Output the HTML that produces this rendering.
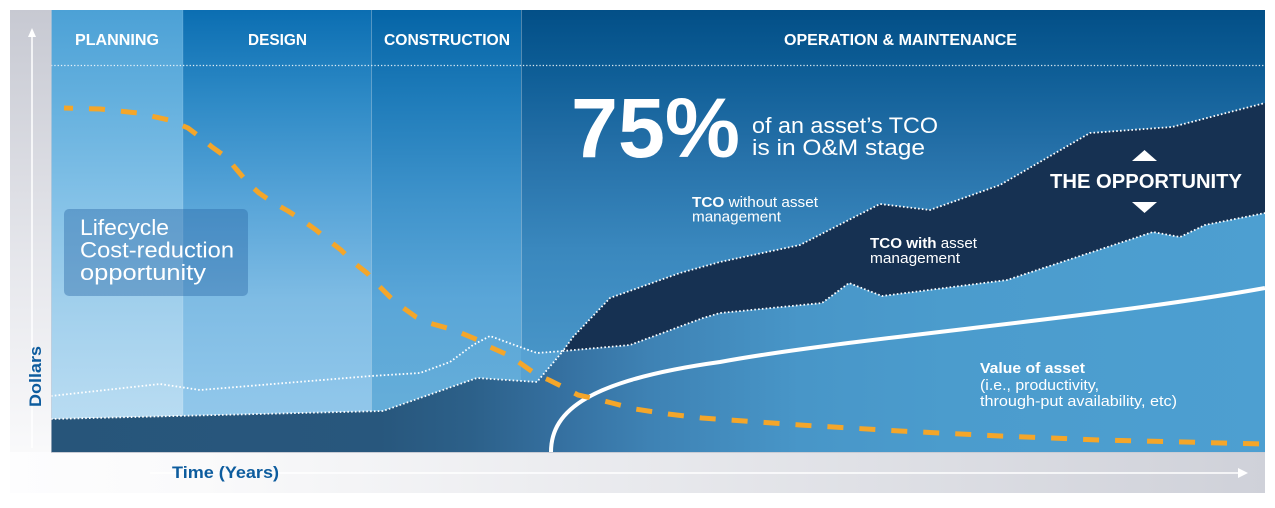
<!DOCTYPE html>
<html><head><meta charset="utf-8">
<style>
html,body{margin:0;padding:0;background:#fff;width:1275px;height:508px;overflow:hidden}
svg{display:block}
</style></head>
<body>
<svg width="1275" height="508" viewBox="0 0 1275 508" xmlns="http://www.w3.org/2000/svg" font-family="'Liberation Sans', Arial, sans-serif">
<defs>
  <linearGradient id="gL" x1="0" y1="10" x2="0" y2="470" gradientUnits="userSpaceOnUse">
    <stop offset="0" stop-color="#c7c9d2"/><stop offset="0.55" stop-color="#e6e7ec"/><stop offset="1" stop-color="#fbfbfc"/>
  </linearGradient>
  <linearGradient id="gB" x1="10" y1="0" x2="1265" y2="0" gradientUnits="userSpaceOnUse">
    <stop offset="0" stop-color="#fdfdfe"/><stop offset="0.15" stop-color="#fafafb"/><stop offset="1" stop-color="#cfd1d9"/>
  </linearGradient>
  <linearGradient id="gP" x1="0" y1="10" x2="0" y2="452" gradientUnits="userSpaceOnUse">
    <stop offset="0" stop-color="#4ca1d6"/><stop offset="0.204" stop-color="#64b0de"/><stop offset="0.43" stop-color="#83c1e7"/><stop offset="0.656" stop-color="#a0cfec"/><stop offset="0.88" stop-color="#b5daf1"/><stop offset="1" stop-color="#bcdef3"/>
  </linearGradient>
  <linearGradient id="gD" x1="0" y1="10" x2="0" y2="452" gradientUnits="userSpaceOnUse">
    <stop offset="0" stop-color="#0b6eb2"/><stop offset="0.204" stop-color="#2e8ac6"/><stop offset="0.43" stop-color="#57a4d8"/><stop offset="0.656" stop-color="#7fbce4"/><stop offset="0.88" stop-color="#8fc6ea"/><stop offset="1" stop-color="#94c9eb"/>
  </linearGradient>
  <linearGradient id="gC" x1="0" y1="10" x2="0" y2="452" gradientUnits="userSpaceOnUse">
    <stop offset="0" stop-color="#0565a7"/><stop offset="0.204" stop-color="#1f7cba"/><stop offset="0.43" stop-color="#3f93cb"/><stop offset="0.656" stop-color="#5aa6d8"/><stop offset="0.88" stop-color="#64add9"/><stop offset="1" stop-color="#66aeda"/>
  </linearGradient>
  <linearGradient id="gO" x1="0" y1="10" x2="0" y2="452" gradientUnits="userSpaceOnUse">
    <stop offset="0" stop-color="#034f87"/><stop offset="0.125" stop-color="#0c5c95"/><stop offset="0.317" stop-color="#2570a8"/><stop offset="0.543" stop-color="#3a88be"/><stop offset="0.77" stop-color="#4794c7"/><stop offset="1" stop-color="#4c9ccd"/>
  </linearGradient>
  <linearGradient id="gDark" x1="51" y1="0" x2="1265" y2="0" gradientUnits="userSpaceOnUse">
    <stop offset="0" stop-color="#27557a"/>
    <stop offset="0.271" stop-color="#28577d"/>
    <stop offset="0.345" stop-color="#2c6089"/>
    <stop offset="0.419" stop-color="#3570a0"/>
    <stop offset="0.493" stop-color="#3e82b4"/>
    <stop offset="0.617" stop-color="#4896c8"/>
    <stop offset="0.74" stop-color="#4b9ccd"/>
    <stop offset="1" stop-color="#4d9fd1"/>
  </linearGradient>
</defs>

<!-- side strips -->
<rect x="10" y="10" width="41" height="460" fill="url(#gL)"/>
<rect x="10" y="452" width="1255" height="41" fill="url(#gB)"/>

<!-- phase columns -->
<rect x="51" y="10" width="132" height="442" fill="url(#gP)"/>
<rect x="183" y="10" width="188" height="442" fill="url(#gD)"/>
<rect x="371" y="10" width="150" height="442" fill="url(#gC)"/>
<rect x="521" y="10" width="744" height="442" fill="url(#gO)"/>

<!-- column dividers -->
<line x1="183" y1="10" x2="183" y2="452" stroke="#ffffff" stroke-opacity="0.12" stroke-width="1"/>
<line x1="371.5" y1="10" x2="371.5" y2="452" stroke="#ffffff" stroke-opacity="0.3" stroke-width="1"/>
<line x1="521.5" y1="10" x2="521.5" y2="452" stroke="#ffffff" stroke-opacity="0.3" stroke-width="1"/>

<!-- header dotted line -->
<line x1="51" y1="65.5" x2="1265" y2="65.5" stroke="#ffffff" stroke-opacity="0.85" stroke-width="1.3" stroke-dasharray="1.3 2"/>

<!-- small light band in O&M under TCO-without line -->
<polygon points="521,347 537,353 563,351 547,370 537,382 521,381" fill="#57a2d3"/>

<!-- lower area (dark + asset area) -->
<path d="M51,419 L383,411 L477,378 L537,382 L547,370 L563,351 L630,345 L703,318 L720,313 L822,303 L849,283 L882,296 L1007,280 L1153,232 L1180,237 L1205,225 L1265,213 L1265,452 L51,452 Z" fill="url(#gDark)"/>

<!-- navy opportunity band -->
<path d="M563,351 L573,337 L610,298 L680,273 L720,262 L800,245 L880,204 L930,210 L1000,185 L1090,133 L1172,127 L1265,103 L1265,213 L1205,225 L1180,237 L1153,232 L1007,280 L882,296 L849,283 L822,303 L720,313 L703,318 L630,345 Z" fill="#163152"/>

<!-- dotted lines -->
<path d="M51,396 L160,384 L200,390 L371,376 L420,373 L450,362 L473,345 L490,336 L520,347 L537,353 L563,351 L573,337 L610,298 L680,273 L720,262 L800,245 L880,204 L930,210 L1000,185 L1090,133 L1172,127 L1265,103" fill="none" stroke="#ffffff" stroke-width="1.8" stroke-dasharray="1.6 2.2"/>
<path d="M51,419 L383,411 L477,378 L537,382 L547,370 L563,351 L630,345 L703,318 L720,313 L822,303 L849,283 L882,296 L1007,280 L1153,232 L1180,237 L1205,225 L1265,213" fill="none" stroke="#ffffff" stroke-width="1.8" stroke-dasharray="1.6 2.2"/>

<!-- chart edges -->
<line x1="51" y1="452.5" x2="1265" y2="452.5" stroke="#c9ccd5" stroke-width="1"/>
<line x1="51.5" y1="10" x2="51.5" y2="452" stroke="#c9ccd5" stroke-width="1" stroke-opacity="0.6"/>

<!-- value of asset curve -->
<path d="M551,452 C551,410 590,380 720,362 C850,338 1100,318 1265,288" fill="none" stroke="#ffffff" stroke-width="4"/>

<!-- orange dashed -->
<polyline points="64,108 100,109 138,113 169,120 188,128 200,137 212,147 226,157 237,170 248,183 259,193 272,202 288,211 302,220 316,230 328,240 341,250 353,262 367,273 378,285 390,297 402,307 416,317 429,323 447,328 461,333 478,340 490,347 508,355 520,363 537,375 549,380 565,388 578,395 596,399 612,403 635,409 668,414 702,418 800,425 900,431 1000,436 1100,440 1265,444" fill="none" stroke="#f4a62a" stroke-width="5" stroke-dasharray="16 16" stroke-dashoffset="7" stroke-linejoin="round"/>

<!-- lifecycle box -->
<rect x="64" y="209" width="184" height="87" rx="5" fill="#2a6aa8" fill-opacity="0.42"/>
<g fill="#ffffff" font-size="22">
  <text x="80" y="235" textLength="89" lengthAdjust="spacingAndGlyphs">Lifecycle</text>
  <text x="80" y="257.5" textLength="154" lengthAdjust="spacingAndGlyphs">Cost-reduction</text>
  <text x="80" y="280" textLength="126" lengthAdjust="spacingAndGlyphs">opportunity</text>
</g>

<!-- header labels -->
<g fill="#ffffff" font-weight="bold" font-size="15.5">
  <text x="75" y="45" textLength="84" lengthAdjust="spacingAndGlyphs">PLANNING</text>
  <text x="248" y="45" textLength="59" lengthAdjust="spacingAndGlyphs">DESIGN</text>
  <text x="384" y="45" textLength="126" lengthAdjust="spacingAndGlyphs">CONSTRUCTION</text>
  <text x="784" y="45" textLength="233" lengthAdjust="spacingAndGlyphs">OPERATION &amp; MAINTENANCE</text>
</g>

<!-- 75% -->
<text x="571" y="157" fill="#ffffff" font-weight="bold" font-size="84" textLength="169" lengthAdjust="spacingAndGlyphs">75%</text>
<g fill="#ffffff" font-size="22">
  <text x="752" y="133" textLength="186" lengthAdjust="spacingAndGlyphs">of an asset’s TCO</text>
  <text x="752" y="155" textLength="173" lengthAdjust="spacingAndGlyphs">is in O&amp;M stage</text>
</g>

<!-- opportunity -->
<polygon points="1132,161 1157,161 1144.5,150" fill="#ffffff"/>
<text x="1050" y="188" fill="#ffffff" font-weight="bold" font-size="20" textLength="192" lengthAdjust="spacingAndGlyphs">THE OPPORTUNITY</text>
<polygon points="1132,202 1157,202 1144.5,213" fill="#ffffff"/>

<!-- TCO labels -->
<g fill="#ffffff" font-size="14.5">
  <text x="692" y="207" textLength="126" lengthAdjust="spacingAndGlyphs"><tspan font-weight="bold">TCO</tspan> without asset</text>
  <text x="692" y="221.5" textLength="89" lengthAdjust="spacingAndGlyphs">management</text>
  <text x="870" y="248" textLength="107" lengthAdjust="spacingAndGlyphs"><tspan font-weight="bold">TCO with</tspan> asset</text>
  <text x="870" y="263" textLength="90" lengthAdjust="spacingAndGlyphs">management</text>
  <text x="980" y="373" font-weight="bold" textLength="105" lengthAdjust="spacingAndGlyphs">Value of asset</text>
  <text x="980" y="390" textLength="119" lengthAdjust="spacingAndGlyphs">(i.e., productivity,</text>
  <text x="980" y="406" textLength="197" lengthAdjust="spacingAndGlyphs">through-put availability, etc)</text>
</g>

<!-- axes arrows -->
<line x1="32" y1="34" x2="32" y2="448" stroke="#ffffff" stroke-width="1.5"/>
<polygon points="28,37 36,37 32,28" fill="#ffffff"/>
<line x1="150" y1="473" x2="1240" y2="473" stroke="#ffffff" stroke-width="1.5"/>
<polygon points="1238,468 1238,478 1248,473" fill="#ffffff"/>

<!-- axis labels -->
<text transform="translate(41,407) rotate(-90)" fill="#0d5c9e" font-weight="bold" font-size="17" textLength="61" lengthAdjust="spacingAndGlyphs">Dollars</text>
<text x="172" y="478" fill="#0d5c9e" font-weight="bold" font-size="17" textLength="107" lengthAdjust="spacingAndGlyphs">Time (Years)</text>
</svg>
</body></html>
